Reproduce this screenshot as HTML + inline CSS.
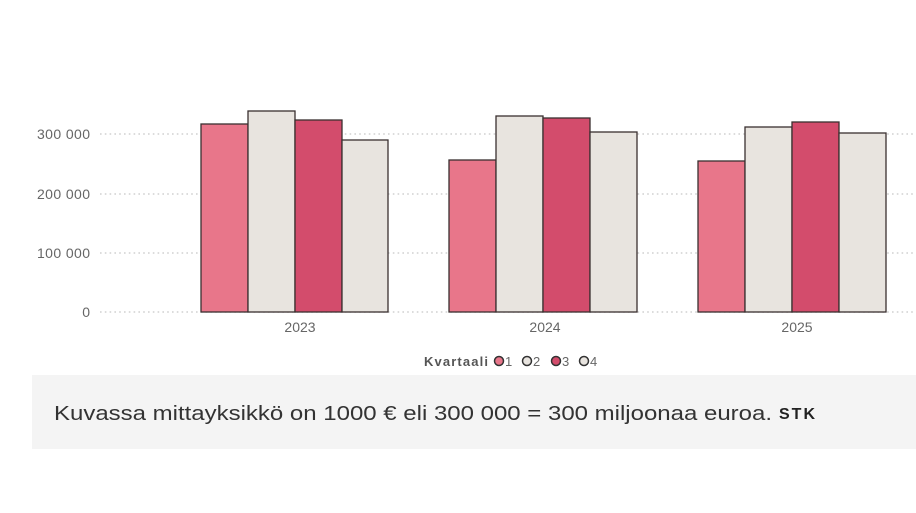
<!DOCTYPE html>
<html><head><meta charset="utf-8"><style>
body{margin:0;width:916px;height:513px;background:#fff;overflow:hidden;font-family:"Liberation Sans",sans-serif}
</style></head><body>
<svg width="916" height="513" style="position:absolute;left:0;top:0">
<g stroke="#d0d0d0" stroke-width="1.6" stroke-dasharray="1.6 3.2">
<line x1="100" y1="134" x2="916" y2="134"/>
<line x1="100" y1="194" x2="916" y2="194"/>
<line x1="100" y1="253" x2="916" y2="253"/>
<line x1="100" y1="312" x2="916" y2="312"/>
</g>
<g font-size="14" fill="#666" text-anchor="end">
<text x="90" y="139" textLength="53">300 000</text>
<text x="90" y="199" textLength="53">200 000</text>
<text x="90" y="258" textLength="53">100 000</text>
<text x="90" y="317">0</text>
</g>
<g stroke="#3a3030" stroke-width="1.3">
<rect x="201" y="124" width="47" height="188" fill="#e8768a"/>
<rect x="248" y="111" width="47" height="201" fill="#e8e4df"/>
<rect x="295" y="120" width="47" height="192" fill="#d34c6c"/>
<rect x="342" y="140" width="46" height="172" fill="#e8e4df"/>
<rect x="449" y="160" width="47" height="152" fill="#e8768a"/>
<rect x="496" y="116" width="47" height="196" fill="#e8e4df"/>
<rect x="543" y="118" width="47" height="194" fill="#d34c6c"/>
<rect x="590" y="132" width="47" height="180" fill="#e8e4df"/>
<rect x="698" y="161" width="47" height="151" fill="#e8768a"/>
<rect x="745" y="127" width="47" height="185" fill="#e8e4df"/>
<rect x="792" y="122" width="47" height="190" fill="#d34c6c"/>
<rect x="839" y="133" width="47" height="179" fill="#e8e4df"/>
</g>
<g font-size="14" fill="#666" text-anchor="middle">
<text x="300" y="332">2023</text>
<text x="545" y="332">2024</text>
<text x="797" y="332">2025</text>
</g>
<text x="488" y="366" font-size="13" font-weight="bold" fill="#555" text-anchor="end" textLength="64">Kvartaali</text>
<g stroke="#333" stroke-width="1.5">
<circle cx="499" cy="361" r="4.5" fill="#e8768a"/>
<circle cx="527" cy="361" r="4.5" fill="#e8e4df"/>
<circle cx="556" cy="361" r="4.5" fill="#d34c6c"/>
<circle cx="584" cy="361" r="4.5" fill="#e8e4df"/>
</g>
<g font-size="13" fill="#666">
<text x="505" y="366">1</text><text x="533" y="366">2</text><text x="562" y="366">3</text><text x="590" y="366">4</text>
</g>
<rect x="32" y="375" width="884" height="74" fill="#f4f4f4"/>
<text x="54" y="420" font-size="20" fill="#333" textLength="718" lengthAdjust="spacingAndGlyphs">Kuvassa mittayksikkö on 1000 € eli 300 000 = 300 miljoonaa euroa.</text>
<text x="779" y="419" font-size="16" font-weight="bold" fill="#222" textLength="36">STK</text>
</svg>
</body></html>
